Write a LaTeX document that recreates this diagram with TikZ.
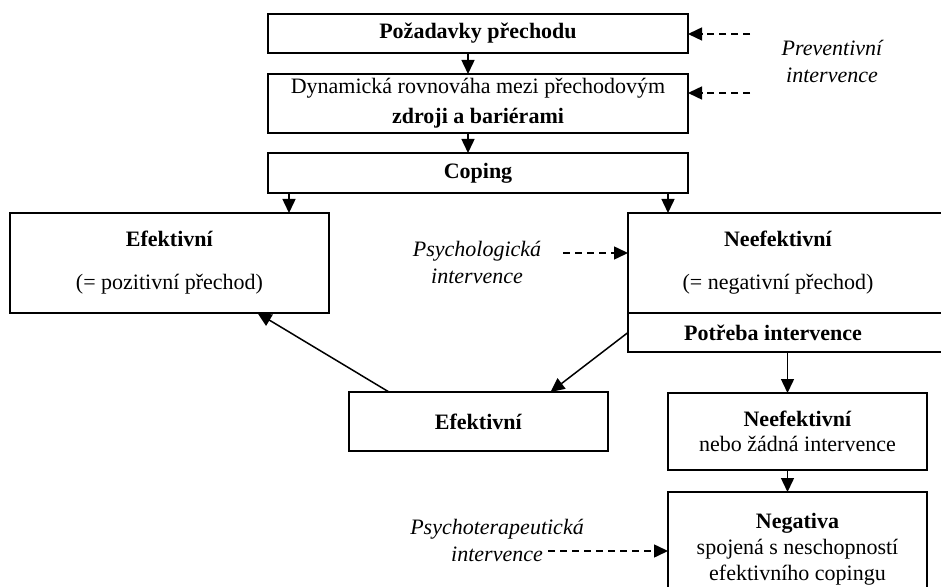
\documentclass[tikz,border=0pt]{standalone}
\usepackage{fontspec}
\setmainfont{Liberation Serif}
\usetikzlibrary{arrows.meta,positioning}

\begin{document}
\begin{tikzpicture}[x=0.5pt, y=-0.5pt,
    every node/.style={font=\fontsize{11}{13}\selectfont, inner sep=0pt},
    box/.style={draw, line width=0.9pt, rectangle, align=center, outer sep=0pt},
    note/.style={align=center, font=\fontsize{11}{13.5}\selectfont\itshape},
    arr/.style={line width=0.75pt, -{Triangle[length=7pt, width=6.5pt]}},
    darr/.style={arr, dash pattern=on 3.5pt off 2.5pt}]
  \useasboundingbox (0,0) rectangle (941,587);
  \clip (0,0) rectangle (941,587);
  % main chain
  \node[box, minimum width=210pt, minimum height=19.5pt] (req) at (478,33.5) {\textbf{Požadavky přechodu}};
  \node[box, minimum width=210pt, minimum height=29.5pt] (bal) at (478,103.5) {Dynamická rovnováha mezi přechodovým\\[2pt]\textbf{zdroji a bariérami}};
  \node[box, minimum width=210pt, minimum height=20pt] (cop) at (478,173) {\textbf{Coping}};
  % two outcomes of coping
  \node[box, minimum width=159.5pt, minimum height=50pt] (eff) at (169.5,263) {\textbf{Efektivní}\\[8.5pt](= pozitivní přechod)};
  \node[box, minimum width=160pt, minimum height=50pt] (neff) at (788,263) {};
  \node[align=center] (nefftext) at ([xshift=-5pt]neff.center) {\textbf{Neefektivní}\\[8.5pt](= negativní přechod)};
  \node[box, minimum width=160pt, minimum height=19.5pt, anchor=north] (need) at (neff.south) {};
  \node (needtext) at ([xshift=-7.5pt]need.center) {\textbf{Potřeba intervence}};
  % after intervention
  \node[box, minimum width=129.5pt, minimum height=29.5pt] (loweff) at (478.5,421.5) {\textbf{Efektivní}};
  \node[box, minimum width=129.5pt, minimum height=38.5pt] (lowneff) at (797.5,431.5) {\textbf{Neefektivní}\\[-0.5pt]nebo žádná intervence};
  \node[box, minimum width=129.5pt, minimum height=57pt] (neg) at (797.5,549) {\textbf{Negativa}\\spojená s neschopností\\efektivního copingu};
  % interventions
  \node[note] (prev) at (832,61) {Preventivní\\intervence};
  \node[note] (psych) at (477,262) {Psychologická\\intervence};
  \node[note] (thera) at (497,540) {Psychoterapeutická\\intervence};
  \coordinate (p1) at (750,34);
  \coordinate (p2) at (750,93);
  \coordinate (p3) at (563,253);
  \coordinate (p4) at (548,551);
  \draw[darr] (p1) -- (req.east |- p1);
  \draw[darr] (p2) -- (bal.east |- p2);
  \draw[darr] (p3) -- (neff.west |- p3);
  \draw[darr] (p4) -- (neg.west |- p4);
  % arrows
  \coordinate (c1) at ([xshift=-20pt]eff.north east);
  \coordinate (c2) at ([xshift=20pt]neff.north west);
  \coordinate (c3) at ([xshift=-5pt]lowneff.north);
  \draw[arr] ([xshift=-5pt]req.south) -- ([xshift=-5pt]bal.north);
  \draw[arr] ([xshift=-5pt]bal.south) -- ([xshift=-5pt]cop.north);
  \draw[arr] (c1 |- cop.south) -- (c1);
  \draw[arr] (c2 |- cop.south) -- (c2);
  \draw[arr] (need.west) -- ([xshift=36pt]loweff.north);
  \draw[arr] ([xshift=20pt]loweff.north west) -- ([xshift=44pt]eff.south);
  \draw[arr] (c3 |- need.south) -- (c3);
  \draw[arr] ([xshift=-5pt]lowneff.south) -- ([xshift=-5pt]neg.north);
\end{tikzpicture}
\end{document}
